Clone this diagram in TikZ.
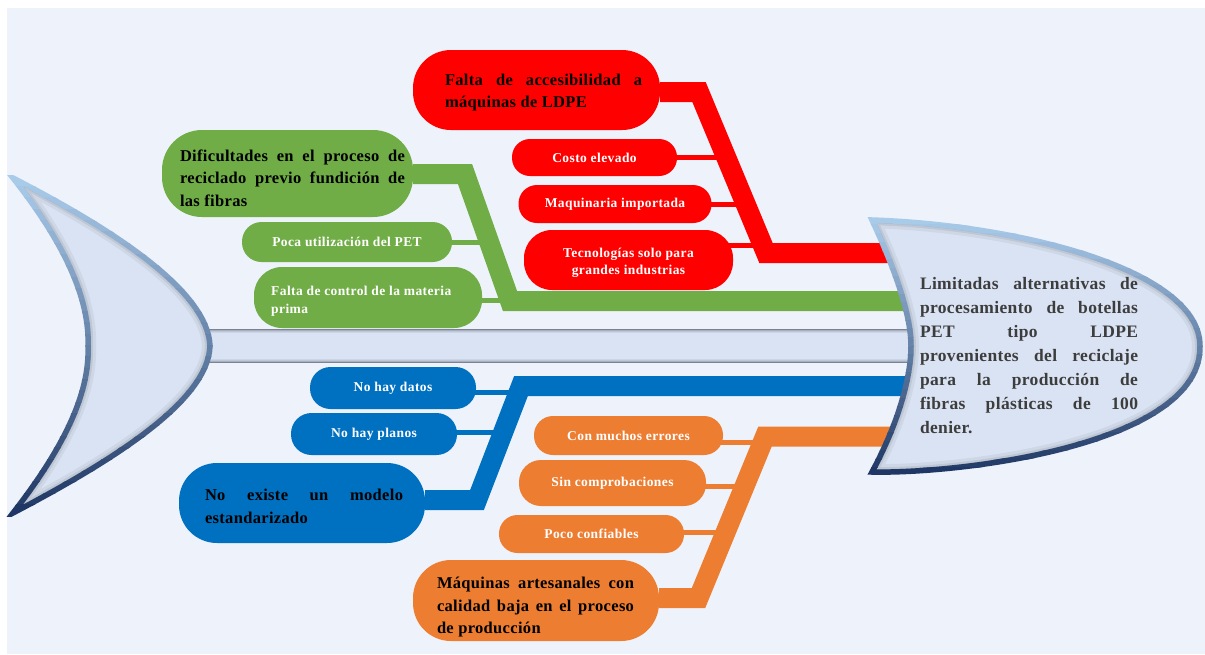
\documentclass[tikz,border=0pt]{standalone}
\usepackage{fontspec}
\setmainfont{Liberation Serif}
\newfontfamily\capfont{Liberation Serif}[LetterSpace=3]
\newfontfamily\bfam{Liberation Serif}[LetterSpace=2]
\usetikzlibrary{calc}

\definecolor{panel}{HTML}{EEF2FA}
\definecolor{fishfill}{HTML}{DAE3F3}
\definecolor{rimlight}{HTML}{A9CBEA}
\definecolor{rimdark}{HTML}{1F3764}
\definecolor{cred}{HTML}{FF0000}
\definecolor{cgreen}{HTML}{70AD47}
\definecolor{cblue}{HTML}{0070C0}
\definecolor{corange}{HTML}{ED7D31}
\definecolor{headtext}{HTML}{3D3D3D}
\definecolor{spineedge}{HTML}{7C8494}
\definecolor{spinemid}{HTML}{B4BDCC}

% spine: dark rims at top and bottom, pale body
\pgfdeclareverticalshading{spineshade}{100bp}{%
  color(0bp)=(spineedge); color(25bp)=(spineedge); color(27bp)=(spinemid);
  color(31bp)=(fishfill); color(69bp)=(fishfill); color(73bp)=(spinemid);
  color(75bp)=(spineedge); color(100bp)=(spineedge)}

\pgfdeclarelayer{bg}
\pgfdeclarelayer{conn}
\pgfsetlayers{bg,conn,main}

% rim of a fish part, blending from light blue (top) to navy (bottom)
\newcommand\rimstroke[3]{%
  \foreach \k in {0,...,29}{%
    \pgfmathsetmacro\ya{#2+(#3-#2)*\k/30}%
    \pgfmathsetmacro\yb{#2+(#3-#2)*(\k+1)/30+0.6}%
    \pgfmathtruncatemacro\pc{100*\k/29}%
    \begin{scope}
      \clip (0,\ya) rectangle (1205,\yb);
      \draw[#1, line width=5.5pt, rimdark!\pc!rimlight];
    \end{scope}
  }%
}
\newcommand\innershade[1]{%
  \begin{scope}
    \clip[#1];
    \draw[#1, line width=16pt, black, opacity=0.05];
    \draw[#1, line width=10pt, black, opacity=0.07];
    \draw[#1, line width=6pt, black, opacity=0.09];
  \end{scope}
}

\begin{document}
\begin{tikzpicture}[x=1pt,y=-1pt,
  line join=miter,
  pill/.style={inner sep=0pt, align=center},
  subtext/.style={font=\capfont\bfseries\fontsize{13.5}{17.5}\selectfont, text=white},
  maintext/.style={font=\bfam\bfseries\fontsize{16.5}{22.5}\selectfont, text=black, align=left, inner sep=0pt},
  trunk/.style={line width=20pt},
  twig/.style={line width=5pt},
  tailpath/.style={insert path={(13,178) .. controls (110,228) and (208,290) .. (210,346)
      .. controls (208,402) and (110,462) .. (13,513)
      .. controls (62,450) and (90,395) .. (88,346)
      .. controls (90,297) and (62,240) .. (13,178) -- cycle}},
  headpath/.style={insert path={(872,220) .. controls (1020,225) and (1200,270) .. (1200,346)
      .. controls (1202,445) and (960,474) .. (872,472)
      .. controls (900,420) and (911,375) .. (911,346)
      .. controls (911,320) and (900,280) .. (872,220) -- cycle}},
]
\useasboundingbox (0,0) rectangle (1205,654);

\begin{pgfonlayer}{bg}
  \fill[white] (0,0) rectangle (1205,654);
  \fill[panel] (7,8) rectangle (1205,654);
  % backbone
  \shade[shading=spineshade] (205,329) rectangle (915,362);
  % tail
  \fill[fishfill, tailpath];
  \innershade{tailpath}
  \rimstroke{tailpath}{175}{516}
\end{pgfonlayer}

% ---------- red branch ----------
\node[pill, fill=cred, rounded corners=38pt, minimum width=247pt, minimum height=80pt] (r0) at (536.5,90) {};
\node[maintext] (r0t) at (543.5,92.5) {\makebox[197pt][s]{Falta de accesibilidad a}\\máquinas de LDPE};
\node[pill, subtext, fill=cred, rounded corners=18pt, minimum width=165pt, minimum height=37pt] (r1) at (594.5,157.5) {Costo elevado};
\node[pill, subtext, fill=cred, rounded corners=18.5pt, minimum width=193pt, minimum height=38pt] (r2) at (615,204) {Maquinaria importada};
\node[pill, fill=cred, rounded corners=28pt, minimum width=209pt, minimum height=60pt] (r3) at (628.5,260) {};
\node[pill, subtext] (r3t) at (628.5,263) {Tecnologías solo para\\grandes industrias};

% ---------- green branch ----------
\node[pill, fill=cgreen, rounded corners=40pt, minimum width=251pt, minimum height=87pt] (g0) at (287.5,173.5) {};
\node[maintext] (g0t) at (292.5,178)
  {\makebox[225pt][s]{Dificultades en el proceso de}\\\makebox[225pt][s]{reciclado previo fundición de}\\las fibras};
\node[pill, subtext, fill=cgreen, rounded corners=19.5pt, minimum width=210pt, minimum height=40pt] (g1) at (347,242) {Poca utilización del PET};
\node[pill, fill=cgreen, rounded corners=28pt, minimum width=228pt, minimum height=61pt] (g2) at (368,297.5) {};
\node[pill, subtext, align=left, anchor=west] (g2t) at (271,301) {Falta de control de la materia\\prima};

% ---------- blue branch ----------
\node[pill, subtext, fill=cblue, rounded corners=20.5pt, minimum width=166pt, minimum height=42pt] (b1) at (393,388) {No hay datos};
\node[pill, subtext, fill=cblue, rounded corners=20.5pt, minimum width=166pt, minimum height=42pt] (b2) at (374,434) {No hay planos};
\node[pill, fill=cblue, rounded corners=38pt, minimum width=246pt, minimum height=80pt] (b0) at (302,503) {};
\node[maintext] (b0t) at (304,506.5) {\makebox[198pt][s]{No existe un modelo}\\estandarizado};

% ---------- orange branch ----------
\node[pill, subtext, fill=corange, rounded corners=19pt, minimum width=189pt, minimum height=39pt] (o1) at (628.5,435.5) {Con muchos errores};
\node[pill, subtext, fill=corange, rounded corners=22pt, minimum width=187pt, minimum height=46pt] (o2) at (612.5,483) {Sin comprobaciones};
\node[pill, subtext, fill=corange, rounded corners=18.5pt, minimum width=185pt, minimum height=38pt] (o3) at (591.5,534) {Poco confiables};
\node[pill, fill=corange, rounded corners=38pt, minimum width=246pt, minimum height=81pt] (o0) at (536,600.5) {};
\node[maintext] (o0t) at (535.5,607.5)
  {\makebox[197pt][s]{Máquinas artesanales con}\\\makebox[197pt][s]{calidad baja en el proceso}\\de producción};

% ---------- bones ----------
\coordinate (rA) at (699,92);    \coordinate (rB) at (766,253);   \coordinate (rE) at (900,253);
\coordinate (r1j) at (726,157.5); \coordinate (r2j) at (746,204); \coordinate (r3j) at (765,245.5);
\coordinate (gA) at (465,174);   \coordinate (gB) at (510,301);   \coordinate (gE) at (910,301);
\coordinate (g1j) at (489,242);  \coordinate (g2j) at (515,300);
\coordinate (bA) at (477,500);   \coordinate (bB) at (521,386);   \coordinate (bE) at (915,386);
\coordinate (b1j) at (519,392);  \coordinate (b2j) at (503,432);
\coordinate (oA) at (698.5,598); \coordinate (oB) at (765,436.5); \coordinate (oE) at (905,436.5);
\coordinate (o1j) at (763,442);  \coordinate (o2j) at (745,486);  \coordinate (o3j) at (726,532);

\begin{pgfonlayer}{conn}
  \draw[twig, cred] (r1.center) -- (r1j);
  \draw[twig, cred] (r2.center) -- (r2j);
  \draw[twig, cred] (r3j -| r3.center) -- (r3j);
  \draw[trunk, cred] (r0.east |- rA) -- (rA) -- (rB) -- (rE);

  \draw[twig, cgreen] (g1.center) -- (g1j);
  \draw[twig, cgreen] (g2j -| g2.center) -- (g2j);
  \draw[trunk, cgreen] (g0.east |- gA) -- (gA) -- (gB) -- (gE);

  \draw[twig, cblue] (b1j -| b1.center) -- (b1j);
  \draw[twig, cblue] (b2j -| b2.center) -- (b2j);
  \draw[trunk, cblue] (b0.east |- bA) -- (bA) -- (bB) -- (bE);

  \draw[twig, corange] (o1j -| o1.center) -- (o1j);
  \draw[twig, corange] (o2j -| o2.center) -- (o2j);
  \draw[twig, corange] (o3j -| o3.center) -- (o3j);
  \draw[trunk, corange] (o0.east |- oA) -- (oA) -- (oB) -- (oE);
\end{pgfonlayer}

% ---------- head ----------
\fill[fishfill, headpath];
\innershade{headpath}
\rimstroke{headpath}{216}{476}
\node[font=\bfam\bfseries\fontsize{17.5}{24}\selectfont, text=headtext, align=left, inner sep=0pt] (head) at (1029,356)
  {\makebox[218pt][s]{Limitadas alternativas de}\\
   \makebox[218pt][s]{procesamiento de botellas}\\
   \makebox[218pt][s]{PET tipo LDPE}\\
   \makebox[218pt][s]{provenientes del reciclaje}\\
   \makebox[218pt][s]{para la producción de}\\
   \makebox[218pt][s]{fibras plásticas de 100}\\
   denier.};
\end{tikzpicture}
\end{document}
